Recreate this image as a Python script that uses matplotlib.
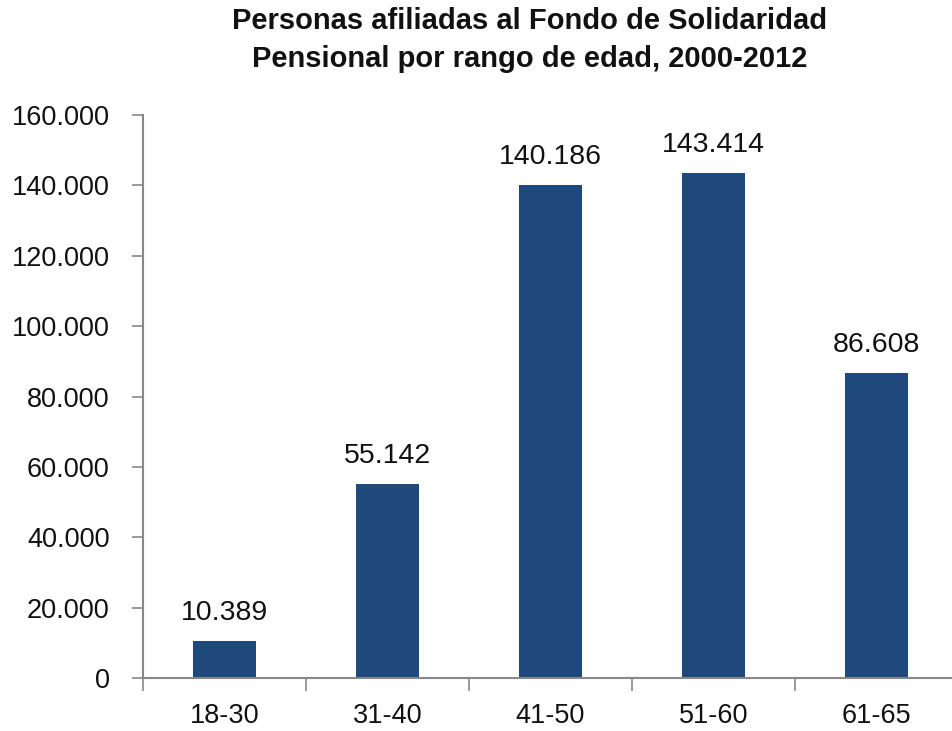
import matplotlib
matplotlib.use("Agg")
import matplotlib.pyplot as plt
from matplotlib.ticker import FuncFormatter, FixedLocator
from matplotlib import font_manager

categories = ["18-30", "31-40", "41-50", "51-60", "61-65"]
values = [10389, 55142, 140186, 143414, 86608]
y_ticks = [0, 20000, 40000, 60000, 80000, 100000, 120000, 140000, 160000]

names = {f.name for f in font_manager.fontManager.ttflist}
title_family = "Liberation Sans Narrow" if "Liberation Sans Narrow" in names else "Liberation Sans"
plt.rcParams["font.family"] = ["Liberation Sans", "DejaVu Sans"]


def thousands(v, pos=None):
    return f"{int(round(v)):,}".replace(",", ".")


fig = plt.figure(figsize=(9.53, 7.31), dpi=100)
ax = fig.add_axes([0.150, 0.0725, 0.855, 0.770])

x = list(range(len(categories)))
bars = ax.bar(x, values, width=0.39, color="#1F497D")

for xi, v in zip(x, values):
    ax.annotate(thousands(v), (xi, v), xytext=(0, 11), textcoords="offset points",
                ha="center", va="bottom", fontsize=20.5, color="#111111")

ax.set_xlim(-0.5, len(categories) - 0.5)
ax.set_ylim(0, 160000)
ax.set_yticks(y_ticks)
ax.yaxis.set_major_formatter(FuncFormatter(thousands))

ax.set_xticks(x)
ax.set_xticklabels(categories)
ax.xaxis.set_minor_locator(FixedLocator([i - 0.5 for i in range(len(categories) + 1)]))
ax.tick_params(axis="x", which="major", length=0, pad=18, labelsize=19.5, labelcolor="#111111")
ax.tick_params(axis="x", which="minor", length=9, width=1.2, color="#888888", direction="out")
ax.tick_params(axis="y", length=8, width=1.2, color="#888888", labelsize=19.5, labelcolor="#111111", pad=16)

for side in ["top", "right"]:
    ax.spines[side].set_visible(False)
for side in ["left", "bottom"]:
    ax.spines[side].set_color("#888888")
    ax.spines[side].set_linewidth(1.5)

fig.text(0.556, 0.99, "Personas afiliadas al Fondo de Solidaridad\nPensional por rango de edad, 2000-2012",
         ha="center", va="top", fontsize=21, fontweight="bold", family=title_family,
         linespacing=1.45, color="#111111")

fig.savefig("out.png", dpi=100)
